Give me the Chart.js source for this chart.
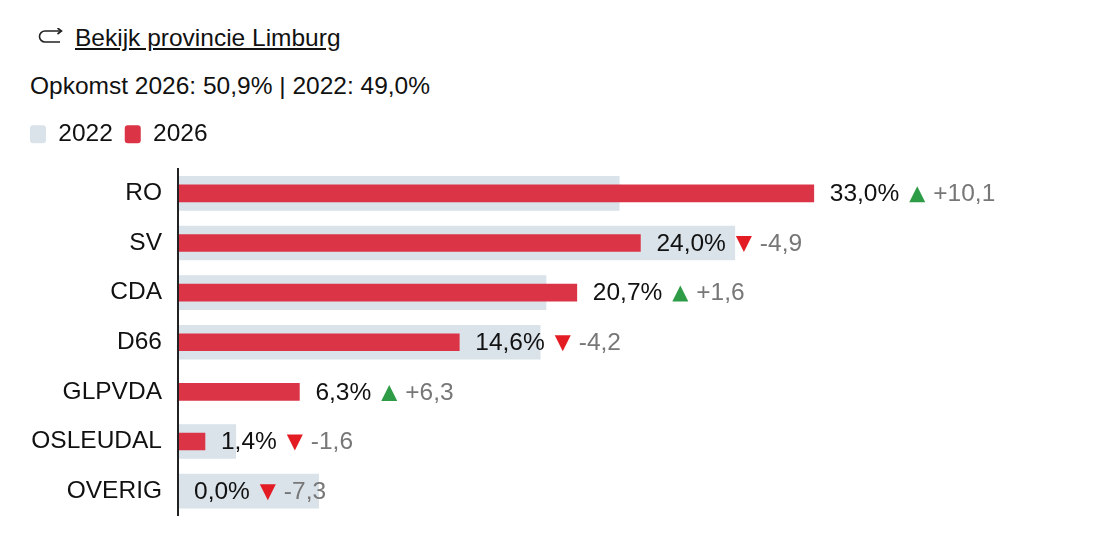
<!DOCTYPE html>
<html lang="nl">
<head>
<meta charset="UTF-8">
<title>Limburg</title>
<script src="https://cdn.jsdelivr.net/npm/chart.js@4.4.1/dist/chart.umd.min.js"></script>
<style>
  body { margin: 0; background: #fff; font-family: "Liberation Sans", Arial, sans-serif; color: #111; font-size: 24.5px; line-height: 1; }
  .icon { position: absolute; left: 37px; top: 28px; }
  .back { position: absolute; left: 75px; top: 26px; color: #111; text-decoration: underline; text-underline-offset: 2px; }
  .turnout { position: absolute; left: 30px; top: 74px; }
  .wrap { position: absolute; left: 18px; top: 110px; width: 1091px; height: 406px; }
</style>
</head>
<body>
  <svg class="icon" width="27" height="17" viewBox="0 0 27 17">
    <path d="M24 3 H8 A5.5 5.5 0 0 0 8 14 H23" fill="none" stroke="#222" stroke-width="1.6"/>
    <path d="M20.5 0 L24.5 3 L20.5 6" fill="none" stroke="#222" stroke-width="1.6"/>
  </svg>
  <a class="back" href="#">Bekijk provincie Limburg</a>
  <div class="turnout">Opkomst 2026: 50,9% | 2022: 49,0%</div>
  <div class="wrap"><canvas id="chart"></canvas></div>
<script>
const parties = ['RO', 'SV', 'CDA', 'D66', 'GLPVDA', 'OSLEUDAL', 'OVERIG'];
const votes2022 = [22.9, 28.9, 19.1, 18.8, 0, 3.0, 7.3];
const votes2026 = [33.0, 24.0, 20.7, 14.6, 6.3, 1.4, 0.0];

const FONT = '"Liberation Sans", Arial, sans-serif';
const SIZE = 24.5;
const fmt = v => v.toFixed(1).replace('.', ',');

// extra room between legend and bars
const legendGap = {
  id: 'legendGap',
  beforeInit(chart) {
    const fit = chart.legend.fit;
    chart.legend.fit = function () {
      fit.bind(chart.legend)();
      this.height += 12;
    };
  }
};

// percentage + change arrow next to each 2026 bar
const valueLabels = {
  id: 'valueLabels',
  afterDatasetsDraw(chart) {
    const ctx = chart.ctx;
    const meta = chart.getDatasetMeta(1);
    ctx.save();
    ctx.font = SIZE + 'px ' + FONT;
    ctx.textBaseline = 'middle';
    ctx.textAlign = 'left';
    meta.data.forEach((bar, i) => {
      const diff = Math.round((votes2026[i] - votes2022[i]) * 10) / 10;
      let x = bar.x + 16;
      const y = bar.y + 1;
      const pct = fmt(votes2026[i]) + '%';
      ctx.fillStyle = '#111';
      ctx.fillText(pct, x, y);
      x += ctx.measureText(pct).width + 10;
      const up = diff >= 0;
      ctx.fillStyle = up ? '#2e9b46' : '#e31c24';
      ctx.beginPath();
      if (up) {
        ctx.moveTo(x, y + 8); ctx.lineTo(x + 16, y + 8); ctx.lineTo(x + 8, y - 8);
      } else {
        ctx.moveTo(x, y - 8); ctx.lineTo(x + 16, y - 8); ctx.lineTo(x + 8, y + 8);
      }
      ctx.closePath();
      ctx.fill();
      x += 24;
      ctx.fillStyle = '#777';
      ctx.fillText((up ? '+' : '-') + fmt(Math.abs(diff)), x, y);
    });
    ctx.restore();
  }
};

new Chart(document.getElementById('chart'), {
  type: 'bar',
  data: {
    labels: parties,
    datasets: [
      { label: '2022', data: votes2022, backgroundColor: '#dae3ea', barThickness: 34, order: 2 },
      { label: '2026', data: votes2026, backgroundColor: '#db3446', barThickness: 17, order: 1 }
    ]
  },
  options: {
    indexAxis: 'y',
    responsive: true,
    maintainAspectRatio: false,
    animation: false,
    layout: { padding: { top: 0, right: 64, bottom: 0, left: 0 } },
    datasets: { bar: { grouped: false, borderSkipped: false } },
    scales: {
      x: { display: false, min: 0, max: 45 },
      y: {
        grid: { display: false, drawTicks: false },
        border: { display: true, color: '#222', width: 2, z: 1 },
        ticks: { color: '#111', font: { family: FONT, size: SIZE }, padding: 16 },
        afterFit(scale) {
          scale.width = 160;
          scale.paddingTop = 0;
          scale.paddingBottom = 0;
        }
      }
    },
    plugins: {
      tooltip: { enabled: false },
      legend: {
        position: 'top',
        align: 'start',
        labels: {
          color: '#111',
          font: { family: FONT, size: SIZE },
          boxWidth: 16,
          boxHeight: 18,
          padding: 12,
          useBorderRadius: true,
          borderRadius: 3,
          sort: (a, b) => a.datasetIndex - b.datasetIndex
        }
      }
    }
  },
  plugins: [legendGap, valueLabels]
});
</script>
</body>
</html>
